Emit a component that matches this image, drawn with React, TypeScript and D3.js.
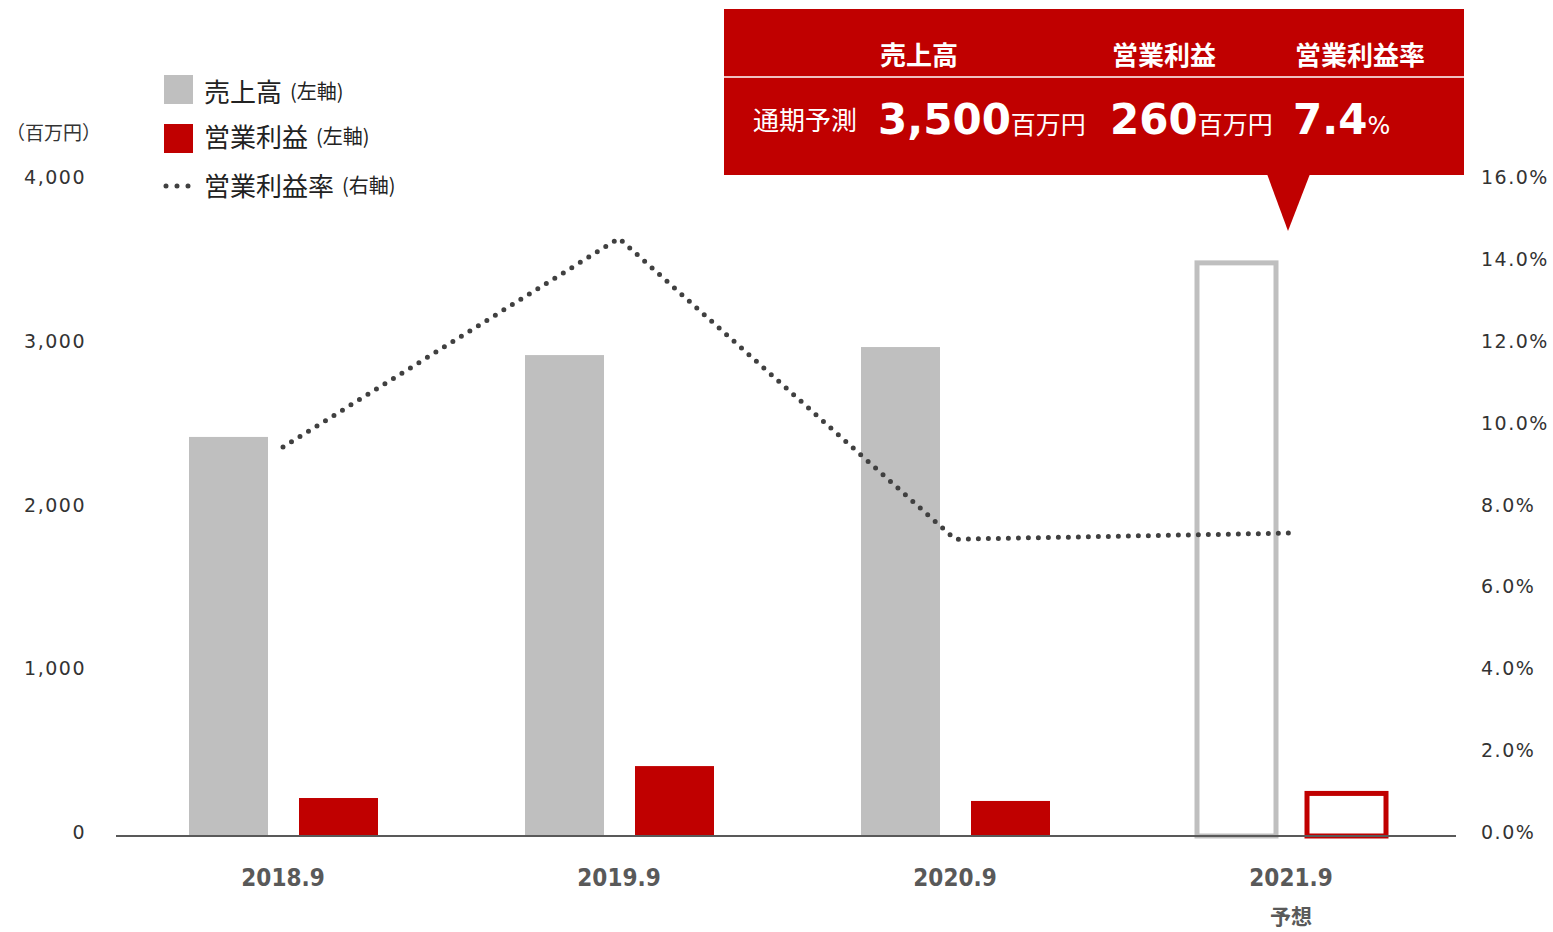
import React from "react";
import * as d3 from "d3";

const categories = ["2018.9", "2019.9", "2020.9", "2021.9"];
const sales = [2437, 2937, 2986, 3500];
const profit = [232, 427, 214, 260];
const margin = [9.5, 14.6, 7.25, 7.4];
const forecast = [false, false, false, true];
const leftTicks = [0, 1000, 2000, 3000, 4000];
const rightTicks = [0, 2, 4, 6, 8, 10, 12, 14, 16];

const W = 1553;
const H = 932;
const GRAY = "#bfbfbf";
const RED = "#c00000";
const LAT = "'DejaVu Sans', 'Noto Sans CJK JP', sans-serif";
const JP = "'Noto Sans CJK JP', sans-serif";

export default function App() {
  const x = d3.scaleBand<string>().domain(categories).range([115, 1459]);
  const yL = d3.scaleLinear().domain([0, 4000]).range([836, 181]);
  const yR = d3.scaleLinear().domain([0, 16]).range([836, 181]);
  const cx = (c: string) => (x(c) as number) + x.bandwidth() / 2;
  const bw = 79;
  const line = d3
    .line<number>()
    .x((_, i) => cx(categories[i]))
    .y((d) => yR(d));

  return (
    <svg width={W} height={H} style={{ position: "absolute", left: 0, top: 0, background: "#fff" }}>
      {/* bars */}
      {categories.map((c, i) => {
        const c0 = cx(c);
        const sx = c0 - 94;
        const px = c0 + 16;
        if (forecast[i]) {
          return (
            <g key={c}>
              <rect x={sx} y={yL(sales[i])} width={bw} height={yL(0) - yL(sales[i])} fill="none" stroke={GRAY} strokeWidth={5} />
              <rect x={px} y={yL(profit[i])} width={bw} height={yL(0) - yL(profit[i])} fill="none" stroke={RED} strokeWidth={5} />
            </g>
          );
        }
        return (
          <g key={c}>
            <rect x={sx} y={yL(sales[i])} width={bw} height={yL(0) - yL(sales[i])} fill={GRAY} />
            <rect x={px} y={yL(profit[i])} width={bw} height={yL(0) - yL(profit[i])} fill={RED} />
          </g>
        );
      })}
      {/* axis line */}
      <line x1={116} x2={1456} y1={836} y2={836} stroke="#595959" strokeWidth={2} />
      {/* margin line */}
      <path d={line(margin) || ""} fill="none" stroke="#404040" strokeWidth={5} strokeDasharray="0 10" strokeLinecap="round" />

      {/* left ticks */}
      {leftTicks.map((t) => (
        <text key={t} x={86} y={yL(t) - 4} textAnchor="end" dominantBaseline="central" fontFamily={LAT} fontSize={19} letterSpacing={1.5} fill="#333">
          {d3.format(",")(t)}
        </text>
      ))}
      {/* right ticks */}
      {rightTicks.map((t) => (
        <text key={t} x={1481} y={yR(t) - 4} textAnchor="start" dominantBaseline="central" fontFamily={LAT} fontSize={19} letterSpacing={1.5} fill="#333">
          {t.toFixed(1) + "%"}
        </text>
      ))}
      {/* x labels */}
      {categories.map((c) => (
        <text key={c} x={cx(c)} y={878} textAnchor="middle" dominantBaseline="central" fontFamily={"'DejaVu Sans Condensed', 'DejaVu Sans', sans-serif"} fontWeight="bold" fontSize={24} fill="#595959">
          {c}
        </text>
      ))}
      <text x={cx(categories[3])} y={915} textAnchor="middle" dominantBaseline="central" fontFamily={JP} fontWeight="bold" fontSize={21} fill="#595959">
        予想
      </text>

      {/* unit */}
      <text x={6} y={131} dominantBaseline="central" fontFamily={JP} fontSize={19} fill="#333">
        （百万円）
      </text>

      {/* legend */}
      <rect x={164} y={75} width={29} height={29} fill={GRAY} />
      <rect x={164} y={124} width={29} height={29} fill={RED} />
      <line x1={166} x2={192} y1={186} y2={186} stroke="#404040" strokeWidth={5} strokeDasharray="0 11" strokeLinecap="round" />
      <text x={204} y={90} dominantBaseline="central" fontFamily={JP} fontSize={26} fill="#222">
        売上高<tspan fontSize={20} dx={8}>(左軸)</tspan>
      </text>
      <text x={204} y={135} dominantBaseline="central" fontFamily={JP} fontSize={26} fill="#222">
        営業利益<tspan fontSize={20} dx={8}>(左軸)</tspan>
      </text>
      <text x={204} y={184} dominantBaseline="central" fontFamily={JP} fontSize={26} fill="#222">
        営業利益率<tspan fontSize={20} dx={8}>(右軸)</tspan>
      </text>

      {/* callout */}
      <rect x={724} y={9} width={740} height={166} fill={RED} />
      <path d="M1267,174 L1310,174 L1288,231 Z" fill={RED} />
      <line x1={724} x2={1464} y1={77} y2={77} stroke="#fff" strokeWidth={1.5} />
      <text x={919} y={53} textAnchor="middle" dominantBaseline="central" fontFamily={JP} fontWeight="bold" fontSize={26} fill="#fff">売上高</text>
      <text x={1164} y={53} textAnchor="middle" dominantBaseline="central" fontFamily={JP} fontWeight="bold" fontSize={26} fill="#fff">営業利益</text>
      <text x={1360} y={53} textAnchor="middle" dominantBaseline="central" fontFamily={JP} fontWeight="bold" fontSize={26} fill="#fff">営業利益率</text>
      <text x={753} y={118} dominantBaseline="central" fontFamily={JP} fontSize={26} fill="#fff">通期予測</text>
      <text x={878} y={134} fontFamily={LAT} fontWeight="bold" fontSize={42} fill="#fff">
        3,500<tspan fontFamily={JP} fontWeight="normal" fontSize={25}>百万円</tspan>
      </text>
      <text x={1110} y={134} fontFamily={LAT} fontWeight="bold" fontSize={42} fill="#fff">
        260<tspan fontFamily={JP} fontWeight="normal" fontSize={25}>百万円</tspan>
      </text>
      <text x={1293} y={134} fontFamily={LAT} fontWeight="bold" fontSize={42} fill="#fff">
        7.4<tspan fontFamily={LAT} fontWeight="normal" fontSize={24}>%</tspan>
      </text>
    </svg>
  );
}
